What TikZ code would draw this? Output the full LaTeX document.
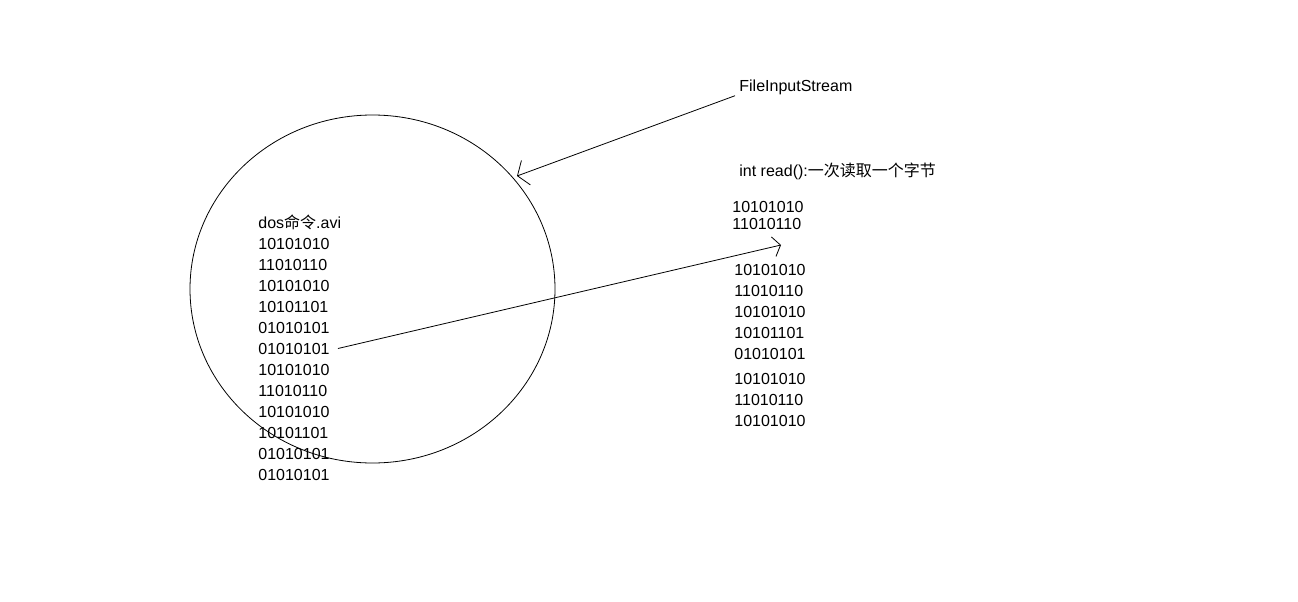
\documentclass[tikz,border=0pt]{standalone}
\usepackage{fontspec}
\setmainfont{Liberation Sans}
\newfontfamily\cjk{Noto Sans CJK SC}
\usetikzlibrary{arrows.meta}

\begin{document}
\begin{tikzpicture}[x=1pt, y=-1pt, line width=0.8pt,
  >={Straight Barb[length=9pt, width=26pt]},
  txt/.style={anchor=base west, inner sep=0pt, font=\fontsize{16}{16}\selectfont}]

% Canvas
\useasboundingbox (0,0) rectangle (1298,602);

% The file on disk
\draw (372.5,289) ellipse (182.5pt and 174pt);
\node[txt] (fname) at (258,228) {dos{\cjk 命令}.avi};
\foreach \b [count=\i] in {10101010,11010110,10101010,10101101,01010101,01010101,
                           10101010,11010110,10101010,10101101,01010101,01010101}
  \node[txt] (lb\i) at (258,{249+21*(\i-1)}) {\b};

% Stream and its read method
\node[txt] (stream) at (739,92) {FileInputStream};
\node[txt] (read) at (739,176) {int read():{\cjk 一次读取一个字节}};

% Bytes read so far
\node[txt] (rb1) at (732,212) {10101010};
\node[txt] (rb2) at (732,229) {11010110};
\foreach \b/\y [count=\i from 3] in {10101010/275,11010110/296,10101010/317,10101101/338,01010101/359,
                                    10101010/384,11010110/405,10101010/426}
  \node[txt] (rb\i) at (734,\y) {\b};

% Arrows
\coordinate (edge) at (517,176);
\coordinate (cursor) at (781,245);
\draw[->] ([xshift=-4pt]stream.south west) -- (edge);
\draw[->, >={Straight Barb[length=7pt, width=20pt]}] ([xshift=8pt]lb6.east) -- (cursor);

\end{tikzpicture}
\end{document}
